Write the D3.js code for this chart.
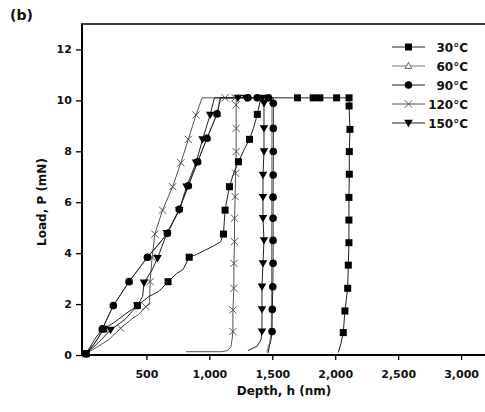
<!DOCTYPE html>
<html><head><meta charset="utf-8">
<script src="https://cdn.jsdelivr.net/npm/d3@7"></script>
<style>body{margin:0;background:#fff}svg{display:block}text{font-family:"DejaVu Sans",Verdana,sans-serif;font-weight:bold}</style>
</head><body><svg id="c" width="485" height="412"></svg>
<script>
// ---- data: [depth (nm), load (mN)] ----
const seriesNames = ["30°C","60°C","90°C","120°C","150°C"];
const xTicks = [500,1000,1500,2000,2500,3000];
const yTicks = [0,2,4,6,8,10,12];

const line30 = [[0,0],[20,0.05],[80,0.4],[162,1.02],[250,1.3],[330,1.6],[428,1.94],[520,2.3],[600,2.5],[672,2.88],[740,3.2],[790,3.35],[840,3.84],[900,3.95],[960,4.1],[1040,4.3],[1090,4.45],[1112,4.75],[1118,5.2],[1125,5.69],[1140,6.1],[1160,6.61],[1190,7.1],[1231,7.59],[1280,8.1],[1319,8.47],[1350,8.9],[1381,9.45],[1400,9.9],[1415,10.1],[2110,10.1],[2110,9.78],[2117,8.86],[2112,7.99],[2112,7.1],[2109,6.19],[2109,5.3],[2109,4.41],[2104,3.53],[2099,2.62],[2077,1.73],[2064,0.88],[2045,0.45],[2025,0.1]];
const mark30 = [[20,0.05],[162,1.02],[428,1.94],[672,2.88],[840,3.84],[1112,4.75],[1125,5.69],[1160,6.61],[1231,7.59],[1319,8.47],[1381,9.45],[1700,10.1],[1825,10.1],[1878,10.1],[2011,10.1],[2110,10.1],[2110,9.78],[2117,8.86],[2112,7.99],[2112,7.1],[2109,6.19],[2109,5.3],[2109,4.41],[2104,3.53],[2099,2.62],[2077,1.73],[2064,0.88]];

const line60 = [[0,0],[20,0.05],[110,0.6],[149,1.02],[237,1.94],[362,2.88],[508,3.84],[667,4.78],[761,5.72],[833,6.65],[907,7.59],[981,8.51],[1061,9.47],[1085,10.1],[1495,10.1],[1497,9.89],[1497,8.9],[1496,7.99],[1496,7.07],[1495,6.2],[1495,5.37],[1494,4.5],[1494,3.6],[1494,2.68],[1493,1.79],[1492,0.92],[1480,0.5],[1455,0.1]];
const mark60 = [[20,0.05],[149,1.02],[237,1.94],[362,2.88],[508,3.84],[667,4.78],[761,5.72],[833,6.65],[907,7.59],[981,8.51],[1061,9.47]];

const line90 = [[0,0],[20,0.05],[100,0.7],[149,1.02],[237,1.94],[362,2.88],[508,3.84],[590,4.3],[667,4.78],[761,5.72],[833,6.65],[907,7.59],[981,8.51],[1061,9.47],[1090,10.1],[1508,10.1],[1508,9.89],[1508,8.9],[1508,7.99],[1507,7.07],[1506,6.2],[1506,5.37],[1506,4.5],[1506,3.6],[1504,2.68],[1500,1.79],[1498,0.92],[1490,0.6],[1479,0.4],[1466,0.07]];
const mark90 = [[20,0.05],[149,1.02],[237,1.94],[362,2.88],[508,3.84],[667,4.78],[761,5.72],[833,6.65],[907,7.59],[981,8.51],[1061,9.47],[1306,10.1],[1380,10.1],[1470,10.1],[1508,9.89],[1508,8.9],[1508,7.99],[1507,7.07],[1506,6.2],[1506,5.37],[1506,4.5],[1506,3.6],[1504,2.68],[1500,1.79],[1498,0.92]];

const line120 = [[0,0],[20,0.05],[120,0.35],[200,0.6],[295,1.05],[380,1.4],[440,1.6],[495,1.9],[525,2.0],[529,2.88],[545,3.83],[567,4.75],[628,5.69],[708,6.61],[774,7.55],[833,8.47],[894,9.43],[942,10.1],[1213,10.1],[1213,9.82],[1213,8.9],[1213,7.99],[1208,7.14],[1205,6.22],[1200,5.37],[1200,4.45],[1195,3.6],[1195,2.62],[1187,1.77],[1187,0.92],[1180,0.6],[1170,0.3],[1140,0.17],[1100,0.13],[814,0.13]];
const mark120 = [[20,0.05],[295,1.05],[495,1.9],[529,2.88],[545,3.83],[567,4.75],[628,5.69],[708,6.61],[774,7.55],[833,8.47],[894,9.43],[1125,10.1],[1205,10.1],[1213,9.82],[1213,8.9],[1213,7.99],[1208,7.14],[1205,6.22],[1200,5.37],[1200,4.45],[1195,3.6],[1195,2.62],[1187,1.77],[1187,0.92]];

const line150 = [[0,0],[20,0.05],[100,0.4],[215,0.98],[330,1.4],[428,1.94],[470,2.3],[481,2.84],[540,3.3],[588,3.8],[662,4.78],[761,5.69],[819,6.61],[894,7.55],[946,8.47],[1006,9.43],[1040,10.1],[1434,10.1],[1434,9.89],[1434,8.9],[1434,7.99],[1426,7.07],[1426,6.2],[1426,5.37],[1434,4.5],[1426,3.6],[1418,2.68],[1418,1.79],[1418,0.92],[1410,0.6],[1380,0.35],[1306,0.17]];
const mark150 = [[20,0.05],[215,0.98],[428,1.94],[481,2.84],[588,3.8],[662,4.78],[761,5.69],[819,6.61],[894,7.55],[946,8.47],[1006,9.43],[1227,10.1],[1290,10.1],[1420,10.1],[1434,9.89],[1434,8.9],[1434,7.99],[1426,7.07],[1426,6.2],[1426,5.37],[1434,4.5],[1426,3.6],[1418,2.68],[1418,1.79],[1418,0.92]];

const lines = [line60, line120, line150, line90, line30];
const marks = [mark60, mark120, mark150, mark90, mark30];
const order = [1,3,4,2,0]; // index into seriesNames for each drawn series

// ---- drawing ----
const svg = d3.select("#c");
const x = d3.scaleLinear().domain([0,3190]).range([83.5,485]);
const y = d3.scaleLinear().domain([0,13]).range([355,24]);

const markerStyle = {
  "30°C":  {shape:"square"},
  "60°C":  {shape:"tri"},
  "90°C":  {shape:"circle"},
  "120°C": {shape:"cross"},
  "150°C": {shape:"trid"}
};
const lineColor = {"30°C":"#222","60°C":"#777","90°C":"#222","120°C":"#555","150°C":"#222"};

function drawMarker(g, shape, cx, cy){
  if(shape==="square") g.append("rect").attr("x",cx-3.5).attr("y",cy-3.5).attr("width",7).attr("height",7).attr("fill","#000");
  else if(shape==="circle") g.append("circle").attr("cx",cx).attr("cy",cy).attr("r",3.8).attr("fill","#000");
  else if(shape==="tri") g.append("path").attr("d",`M${cx},${cy-3.6}L${cx+3.4},${cy+2.4}L${cx-3.4},${cy+2.4}Z`).attr("fill","#fff").attr("stroke","#555").attr("stroke-width",0.9);
  else if(shape==="trid") g.append("path").attr("d",`M${cx-4.3},${cy-3.2}L${cx+4.3},${cy-3.2}L${cx},${cy+4.2}Z`).attr("fill","#000");
  else if(shape==="cross") g.append("path").attr("d",`M${cx-3.6},${cy-3.6}L${cx+3.6},${cy+3.6}M${cx-3.6},${cy+3.6}L${cx+3.6},${cy-3.6}`).attr("stroke","#444").attr("stroke-width",0.9).attr("fill","none");
}

const lineGen = d3.line().x(d=>x(d[0])).y(d=>y(d[1]));
const plot = svg.append("g");
lines.forEach((ln,i)=>{
  const name = seriesNames[order[i]];
  plot.append("path").attr("d",lineGen(ln)).attr("fill","none").attr("stroke",lineColor[name]).attr("stroke-width",1);
});
marks.forEach((mk,i)=>{
  const name = seriesNames[order[i]];
  const g = plot.append("g");
  mk.forEach(d=>drawMarker(g, markerStyle[name].shape, x(d[0]), y(d[1])));
});

// axes
const xAxis = d3.axisBottom(x).tickValues(xTicks).tickFormat(d3.format(",")).tickSize(5).tickSizeOuter(0);
const yAxis = d3.axisLeft(y).tickValues(yTicks).tickSize(6).tickSizeOuter(0);
const gx = svg.append("g").attr("transform","translate(0,355)").call(xAxis);
const gy = svg.append("g").attr("transform","translate(82,0)").call(yAxis);
[gx,gy].forEach(g=>{
  g.select(".domain").remove();
  g.selectAll(".tick line").attr("stroke","#000").attr("stroke-width",1.3);
  g.selectAll(".tick text").attr("fill","#111").style("font-size","11px").style("font-weight","bold").style("font-family","'DejaVu Sans',sans-serif");
});
gx.selectAll(".tick text").attr("dy","1.35em");
gy.selectAll(".tick text").attr("dx","-0.1em");
// frame lines
svg.append("line").attr("x1",82).attr("x2",485).attr("y1",355).attr("y2",355).attr("stroke","#000").attr("stroke-width",2);
svg.append("line").attr("x1",82).attr("x2",82).attr("y1",24).attr("y2",356).attr("stroke","#000").attr("stroke-width",2);
svg.append("line").attr("x1",81).attr("x2",485).attr("y1",24).attr("y2",24).attr("stroke","#000").attr("stroke-width",1.5);

// titles
svg.append("text").attr("x",284).attr("y",395).attr("text-anchor","middle").style("font-size","12px").attr("fill","#111").text("Depth, h (nm)");
svg.append("text").attr("transform","translate(46,202) rotate(-90)").attr("text-anchor","middle").style("font-size","12px").attr("fill","#111").text("Load, P (mN)");
svg.append("text").attr("x",10).attr("y",20).style("font-size","14px").attr("fill","#111").text("(b)");

// legend
const legY = [47,66,85,104,123];
seriesNames.forEach((name,i)=>{
  const ly = legY[i];
  svg.append("line").attr("x1",392).attr("x2",425).attr("y1",ly).attr("y2",ly).attr("stroke",lineColor[name]).attr("stroke-width",1);
  drawMarker(svg, markerStyle[name].shape, 408.5, ly);
  svg.append("text").attr("x",468).attr("y",ly+4.5).attr("text-anchor","end").style("font-size","12px").attr("fill","#111").text(name);
});
</script></body></html>
